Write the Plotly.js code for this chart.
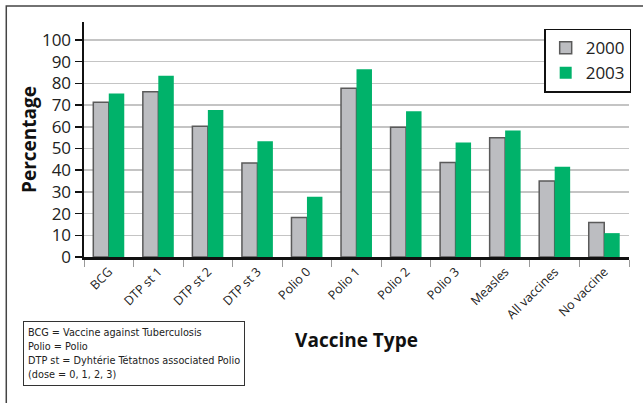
<!DOCTYPE html>
<html>
<head>
<meta charset="utf-8">
<script src="https://cdn.plot.ly/plotly-3.0.1.min.js"></script>
<style>html,body{margin:0;padding:0;background:#fff;}#chart{width:643px;height:403px;}</style>
</head>
<body>
<div id="chart"></div>
<script>
var categories = ["BCG", "DTP st 1", "DTP st 2", "DTP st 3", "Polio 0", "Polio 1", "Polio 2", "Polio 3", "Measles", "All vaccines", "No vaccine"];
var values2000 = [71.3, 76.2, 60.3, 43.3, 18.2, 77.8, 59.8, 43.5, 54.9, 35.0, 15.9];
var values2003 = [75.4, 83.5, 67.7, 53.4, 27.8, 86.5, 67.2, 52.8, 58.3, 41.6, 11.0];
var yTicks = [0, 10, 20, 30, 40, 50, 60, 70, 80, 90, 100];
var noteLines = ["BCG = Vaccine against Tuberculosis", "Polio = Polio", "DTP st = Dyhtérie Tétatnos associated Polio", "(dose = 0, 1, 2, 3)"];

var font = "'Open Sans', 'Noto Sans', sans-serif";
var narrow = "'DejaVu Sans Condensed', 'Open Sans', sans-serif";

var traces = [
  {type: "bar", name: "2000", x: categories, y: values2000,
   marker: {color: "#bcbdc1", line: {color: "#5a5a5a", width: 1.5}}},
  {type: "bar", name: "2003", x: categories, y: values2003,
   marker: {color: "#00b26a", line: {color: "#00b26a", width: 0}}}
];

var layout = {
  width: 643, height: 403,
  margin: {l: 84, r: 12, t: 22, b: 146},
  paper_bgcolor: "#fff", plot_bgcolor: "#fff",
  barmode: "group", bargap: 0.375, bargroupgap: 0,
  font: {family: font, color: "#222"},
  showlegend: true,
  legend: {x: 1.004, y: 0.972, xanchor: "right", yanchor: "top",
           bgcolor: "#fff", bordercolor: "#111", borderwidth: 1.5,
           font: {size: 17, family: font, color: "#222"},
           itemwidth: 30, tracegroupgap: 0},
  xaxis: {
    type: "category",
    tickson: "boundaries", ticks: "outside", ticklen: 7, tickcolor: "#999", tickwidth: 1,
    tickangle: -45, tickfont: {size: 12.5, family: font, color: "#222"},
    showline: true, linecolor: "#111", linewidth: 2.5,
    showgrid: false, zeroline: false,
    title: {text: "<b>Vaccine Type</b>", font: {size: 19, family: font, color: "#111"}, standoff: 12}
  },
  yaxis: {
    range: [0, 108.3], tickvals: yTicks, ticktext: yTicks.map(String),
    ticks: "outside", ticklen: 7, tickcolor: "#111", tickwidth: 1.5,
    tickfont: {size: 17, family: font, color: "#222"},
    showline: true, linecolor: "#111", linewidth: 2.5,
    showgrid: true, gridcolor: "#c4c4c4", gridwidth: 1.5,
    zeroline: false,
    title: {text: "<b>Percentage</b>", font: {size: 19, family: font, color: "#111"}, standoff: 1}
  },
  shapes: [
    {type: "rect", xref: "paper", yref: "paper", x0: -0.1426, x1: 1.04, y0: -0.68, y1: 1.068,
     line: {color: "#444", width: 1.5}, fillcolor: "rgba(0,0,0,0)", layer: "below"}
  ],
  annotations: [
    {xref: "paper", yref: "paper", x: -0.1115, y: -0.271, xanchor: "left", yanchor: "top",
     text: noteLines.join("<br>"), align: "left", showarrow: false,
     font: {size: 10.8, family: narrow, color: "#222"},
     bordercolor: "#333", borderwidth: 1, borderpad: 4, bgcolor: "#fff"}
  ]
};

Plotly.newPlot("chart", traces, layout, {displayModeBar: false, staticPlot: true});
</script>
</body>
</html>
